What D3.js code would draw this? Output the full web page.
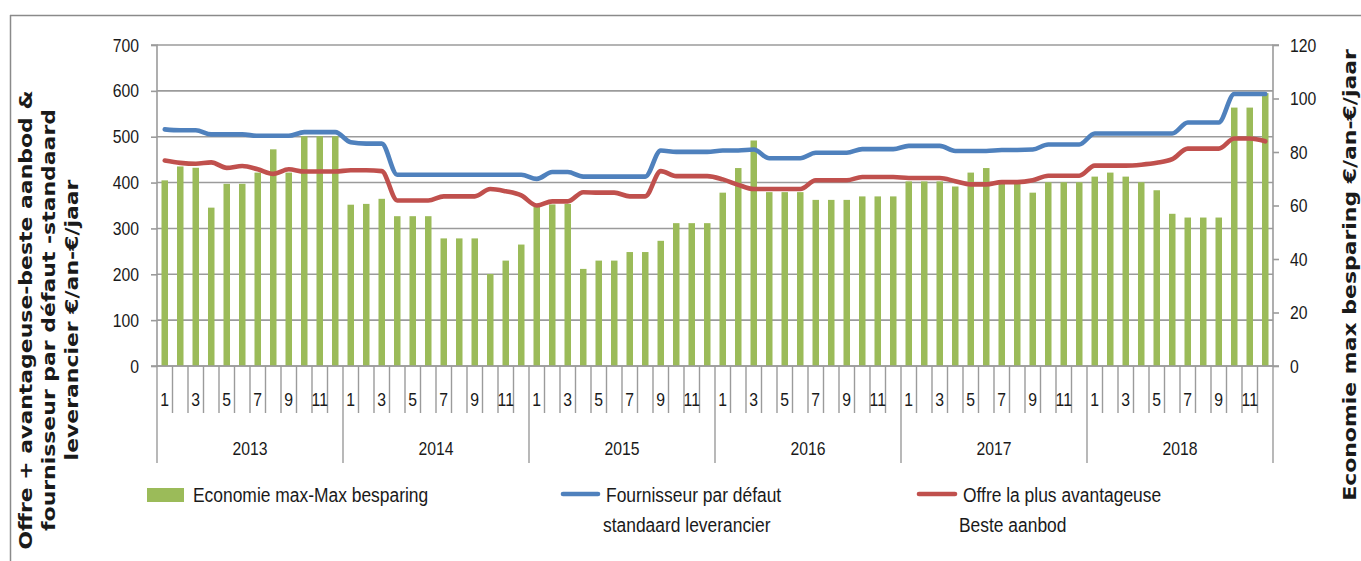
<!DOCTYPE html>
<html>
<head>
<meta charset="utf-8">
<script src="https://cdn.jsdelivr.net/npm/d3@7"></script>
<style>
  html, body { margin: 0; padding: 0; background: #fff; }
  svg { display: block; }
</style>
</head>
<body>
<svg id="chart" width="1361" height="561"></svg>
<script>
// ---------------- DATA ----------------
const years = ["2013", "2014", "2015", "2016", "2017", "2018"];
const monthTickLabels = ["1", "", "3", "", "5", "", "7", "", "9", "", "11", ""];

// Economie max - Max besparing (right axis, €/an)
const savings = [
  69.4, 74.6, 74.1, 59.2, 68.1, 68.1, 72.3, 81.0, 72.3, 85.9, 85.9, 85.9,
  60.3, 60.6, 62.5, 56.0, 56.0, 56.0, 47.7, 47.7, 47.7, 34.4, 39.4, 45.4,
  59.6, 60.4, 60.6, 36.3, 39.4, 39.4, 42.6, 42.6, 46.8, 53.4, 53.4, 53.4,
  64.8, 74.0, 84.3, 65.0, 65.0, 65.0, 62.1, 62.1, 62.1, 63.4, 63.4, 63.4,
  69.0, 69.0, 69.0, 67.1, 72.3, 74.0, 68.7, 68.7, 64.8, 68.7, 68.7, 68.7,
  70.8, 72.3, 70.8, 68.7, 65.7, 56.9, 55.5, 55.5, 55.5, 96.6, 96.6, 102.0
];

// Fournisseur par défaut - standaard leverancier (left axis)
const defaultSupplier = [
  516, 514, 514, 505, 505, 505, 502, 502, 502, 510, 510, 510,
  488, 485, 485, 417, 417, 417, 417, 417, 417, 417, 417, 417,
  408, 423, 423, 413, 413, 413, 413, 413, 470, 467, 467, 467,
  470, 470, 472, 453, 453, 453, 465, 465, 465, 473, 473, 473,
  480, 480, 480, 469, 469, 469, 471, 471, 472, 483, 483, 483,
  507, 507, 507, 507, 507, 507, 531, 531, 531, 593, 593, 593
];

// Offre la plus avantageuse - Beste aanbod (left axis)
const bestOffer = [
  448, 443, 441, 444, 432, 436, 429, 419, 429, 424, 424, 424,
  427, 427, 425, 361, 361, 361, 370, 370, 370, 386, 381, 372,
  350, 359, 359, 379, 378, 378, 370, 370, 425, 414, 414, 414,
  407, 395, 386, 386, 386, 386, 405, 405, 405, 412, 412, 412,
  410, 410, 410, 403, 396, 396, 401, 401, 405, 415, 415, 415,
  437, 437, 437, 439, 443, 451, 474, 474, 474, 496, 496, 490
];

const leftTicks = [0, 100, 200, 300, 400, 500, 600, 700];
const rightTicks = [0, 20, 40, 60, 80, 100, 120];

const leftTitle = ["Offre + avantageuse-beste aanbod &", "fournisseur par défaut -standaard", "leverancier €/an-€/jaar"];
const rightTitle = "Economie max besparing €/an-€/jaar";
const legendBar = "Economie max-Max besparing";
const legendBlue = ["Fournisseur par défaut", "standaard leverancier"];
const legendRed = ["Offre la plus avantageuse", "Beste aanbod"];

// ---------------- STYLE ----------------
const GREEN = "#9BBB59", BLUE = "#4F81BD", RED = "#C0504D";
const GRID = "#9b9b9b", TXT = "#1a1a1a";
const TICKFONT = "'Liberation Sans', Arial, sans-serif";
const TITLEFONT = "'DejaVu Sans', Verdana, sans-serif";
const SQUEEZE = 0.83;

// horizontally condense a text around its own anchor x
function condense(sel, f) {
  sel.each(function () {
    const t = d3.select(this);
    const xa = +(t.attr("x") || 0);
    t.attr("transform", `translate(${xa},0) scale(${f},1) translate(${-xa},0)`);
  });
}

const svg = d3.select("#chart");
const L = 157, R = 1273, T = 45, B = 366;

const idx = d3.range(savings.length);
const x = d3.scaleBand().domain(idx).range([L, R]).padding(0);
const yL = d3.scaleLinear().domain([0, 700]).range([B, T]);
const yR = d3.scaleLinear().domain([0, 120]).range([B, T]);

// outer frame
svg.append("line").attr("x1", 10).attr("x2", 1361).attr("y1", 15.5).attr("y2", 15.5)
  .attr("stroke", "#8a8a8a").attr("stroke-width", 1.5);
svg.append("line").attr("x1", 10.5).attr("x2", 10.5).attr("y1", 15).attr("y2", 561)
  .attr("stroke", "#8a8a8a").attr("stroke-width", 1.5);

// gridlines
svg.append("g").selectAll("line").data(leftTicks).join("line")
  .attr("x1", L).attr("x2", R)
  .attr("y1", d => yL(d)).attr("y2", d => yL(d))
  .attr("stroke", GRID).attr("stroke-width", 1.6);

// bars
const bw = x.bandwidth() * 0.42;
svg.append("g").selectAll("rect").data(idx).join("rect")
  .attr("x", i => x(i) + (x.bandwidth() - bw) / 2)
  .attr("width", bw)
  .attr("y", i => yR(savings[i]))
  .attr("height", i => yR(0) - yR(savings[i]))
  .attr("fill", GREEN);

// lines
const line = arr => d3.line()
  .x(i => x(i) + x.bandwidth() / 2)
  .y(i => yL(arr[i]))
  .curve(d3.curveMonotoneX)(idx);
svg.append("path").attr("d", line(defaultSupplier)).attr("fill", "none")
  .attr("stroke", BLUE).attr("stroke-width", 4.6).attr("stroke-linejoin", "round").attr("stroke-linecap", "round");
svg.append("path").attr("d", line(bestOffer)).attr("fill", "none")
  .attr("stroke", RED).attr("stroke-width", 4.6).attr("stroke-linejoin", "round").attr("stroke-linecap", "round");

// left axis
const gL = svg.append("g").attr("transform", `translate(${L},0)`)
  .call(d3.axisLeft(yL).tickValues(leftTicks).tickSize(6).tickPadding(12).tickFormat(d3.format("d")));
gL.select(".domain").attr("stroke", GRID).attr("stroke-width", 1.6).attr("d", `M-6,${T}H0V${B}H-6`);
gL.selectAll(".tick line").attr("stroke", GRID).attr("stroke-width", 1.6);
gL.selectAll("text").attr("font-family", TICKFONT).attr("font-size", 19).attr("fill", TXT).call(condense, SQUEEZE);

// right axis
const gR = svg.append("g").attr("transform", `translate(${R},0)`)
  .call(d3.axisRight(yR).tickValues(rightTicks).tickSize(6).tickPadding(11).tickFormat(d3.format("d")));
gR.select(".domain").attr("stroke", GRID).attr("stroke-width", 1.6).attr("d", `M6,${T}H0V${B}H6`);
gR.selectAll(".tick line").attr("stroke", GRID).attr("stroke-width", 1.6);
gR.selectAll("text").attr("font-family", TICKFONT).attr("font-size", 19).attr("fill", TXT).call(condense, SQUEEZE);

// category axis (two-level)
const gX = svg.append("g");
gX.append("line").attr("x1", L).attr("x2", R).attr("y1", B).attr("y2", B)
  .attr("stroke", GRID).attr("stroke-width", 1.6);
const bounds = d3.range(savings.length + 1);
gX.selectAll("line.mt").data(bounds).join("line").attr("class", "mt")
  .attr("x1", i => i < savings.length ? x(i) : R)
  .attr("x2", i => i < savings.length ? x(i) : R)
  .attr("y1", B).attr("y2", i => i % 12 === 0 ? 463 : 413)
  .attr("stroke", GRID).attr("stroke-width", 1.4);
gX.selectAll("text.ml").data(idx.filter(i => monthTickLabels[i % 12] !== "")).join("text").attr("class", "ml")
  .attr("x", i => x(i) + x.bandwidth() / 2)
  .attr("y", 406)
  .attr("text-anchor", "middle")
  .attr("font-family", TICKFONT).attr("font-size", 19).attr("fill", TXT)
  .text(i => monthTickLabels[i % 12])
  .call(condense, SQUEEZE);
gX.selectAll("text.yl").data(years).join("text").attr("class", "yl")
  .attr("x", (d, j) => (x(j * 12) + (j === years.length - 1 ? R : x((j + 1) * 12))) / 2)
  .attr("y", 455)
  .attr("text-anchor", "middle")
  .attr("font-family", TICKFONT).attr("font-size", 19).attr("fill", TXT)
  .text(d => d)
  .call(condense, SQUEEZE);

// axis titles (stretched along the reading direction like the reference)
const lt = svg.append("text")
  .attr("transform", "translate(0,320) rotate(-90) scale(1.22,1)")
  .attr("text-anchor", "middle")
  .attr("font-family", TITLEFONT).attr("font-weight", "bold").attr("font-size", 18).attr("fill", TXT);
leftTitle.forEach((t, k) => lt.append("tspan").attr("x", 0).attr("y", 32 + k * 23).text(t));

svg.append("text")
  .attr("transform", "translate(1356,275) rotate(-90) scale(1.22,1)")
  .attr("text-anchor", "middle")
  .attr("font-family", TITLEFONT).attr("font-weight", "bold").attr("font-size", 18).attr("fill", TXT)
  .text(rightTitle);

// legend
const LEGFONT = TICKFONT, LEGSIZE = 21;
const lg = svg.append("g");
lg.append("rect").attr("x", 147).attr("y", 488).attr("width", 37).attr("height", 14).attr("fill", GREEN);
lg.append("text").attr("x", 193).attr("y", 502).attr("font-family", LEGFONT).attr("font-size", LEGSIZE).attr("fill", TXT)
  .text(legendBar).call(condense, SQUEEZE);

lg.append("line").attr("x1", 563).attr("x2", 598).attr("y1", 494).attr("y2", 494)
  .attr("stroke", BLUE).attr("stroke-width", 4.6).attr("stroke-linecap", "round");
legendBlue.forEach((t, k) => lg.append("text").attr("x", k === 0 ? 606 : 603).attr("y", 502 + k * 30)
  .attr("font-family", LEGFONT).attr("font-size", LEGSIZE).attr("fill", TXT).text(t).call(condense, SQUEEZE));

lg.append("line").attr("x1", 919).attr("x2", 955).attr("y1", 494).attr("y2", 494)
  .attr("stroke", RED).attr("stroke-width", 4.6).attr("stroke-linecap", "round");
legendRed.forEach((t, k) => lg.append("text").attr("x", k === 0 ? 963 : 959).attr("y", 502 + k * 30)
  .attr("font-family", LEGFONT).attr("font-size", LEGSIZE).attr("fill", TXT).text(t).call(condense, SQUEEZE));
</script>
</body>
</html>
